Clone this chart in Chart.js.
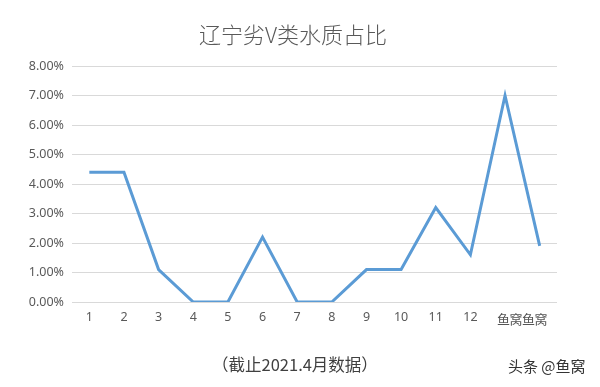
<!DOCTYPE html>
<html>
<head>
<meta charset="utf-8">
<script src="https://cdn.jsdelivr.net/npm/chart.js@4"></script>
<style>
  html, body { margin: 0; padding: 0; background: #fff; }
  #wrap { position: relative; width: 600px; height: 387px; }
  .txt { position: absolute; font-family: 'Noto Sans CJK SC', 'Noto Sans', sans-serif; white-space: nowrap; }
  #title { left: 0; width: 586px; top: 17px; text-align: center; font-size: 22px; color: #595959; font-weight: 300; }
  #note { left: 212px; top: 352px; font-size: 16.5px; color: #404040; }
  #mark { left: 508px; top: 355px; font-size: 15px; color: #333; }
  #wm { left: 497px; top: 309px; font-size: 13px; color: #555; letter-spacing: -0.5px; }
</style>
</head>
<body>
<div id="wrap">
  <canvas id="c" width="600" height="387"></canvas>
  <div class="txt" id="title">辽宁劣V类水质占比</div>
  <div class="txt" id="wm">鱼窝鱼窝</div>
  <div class="txt" id="note">（截止2021.4月数据）</div>
  <div class="txt" id="mark">头条 @鱼窝</div>
</div>
<script>
// ===== DATA =====
const categories = ['1', '2', '3', '4', '5', '6', '7', '8', '9', '10', '11', '12', '', ''];
const shares = [4.4, 4.4, 1.1, 0, 0, 2.2, 0, 0, 1.1, 1.1, 3.2, 1.6, 7.0, 1.9];
const yTicks = [0, 1, 2, 3, 4, 5, 6, 7, 8];

const COLORS = {
  line: '#5B9BD5',
  grid: '#D9D9D9',
  text: '#595959',
};

const tickFont = { family: "'Noto Sans', sans-serif", size: 12.5 };

new Chart(document.getElementById('c'), {
  type: 'line',
  data: {
    labels: categories,
    datasets: [{
      data: shares,
      borderColor: COLORS.line,
      borderWidth: 3,
      pointRadius: 0,
      tension: 0,
      fill: false,
    }],
  },
  options: {
    responsive: false,
    animation: false,
    layout: { padding: { top: 66, right: 43, left: 0, bottom: 0 } },
    plugins: { legend: { display: false }, tooltip: { enabled: false }, title: { display: false } },
    scales: {
      x: {
        offset: true,
        grid: { display: false, drawTicks: false },
        border: { display: false },
        ticks: { color: COLORS.text, font: tickFont, padding: 8, maxRotation: 0, autoSkip: false },
        afterFit: (s) => { s.height = 85; },
      },
      y: {
        min: 0,
        max: 8,
        afterBuildTicks: (s) => { s.ticks = yTicks.map((v) => ({ value: v })); },
        grid: { color: COLORS.grid, drawTicks: false },
        border: { display: false },
        ticks: { color: COLORS.text, font: tickFont, padding: 8, callback: (v) => v.toFixed(2) + '%' },
        afterFit: (s) => { s.width = 72; },
      },
    },
  },
});
</script>
</body>
</html>
